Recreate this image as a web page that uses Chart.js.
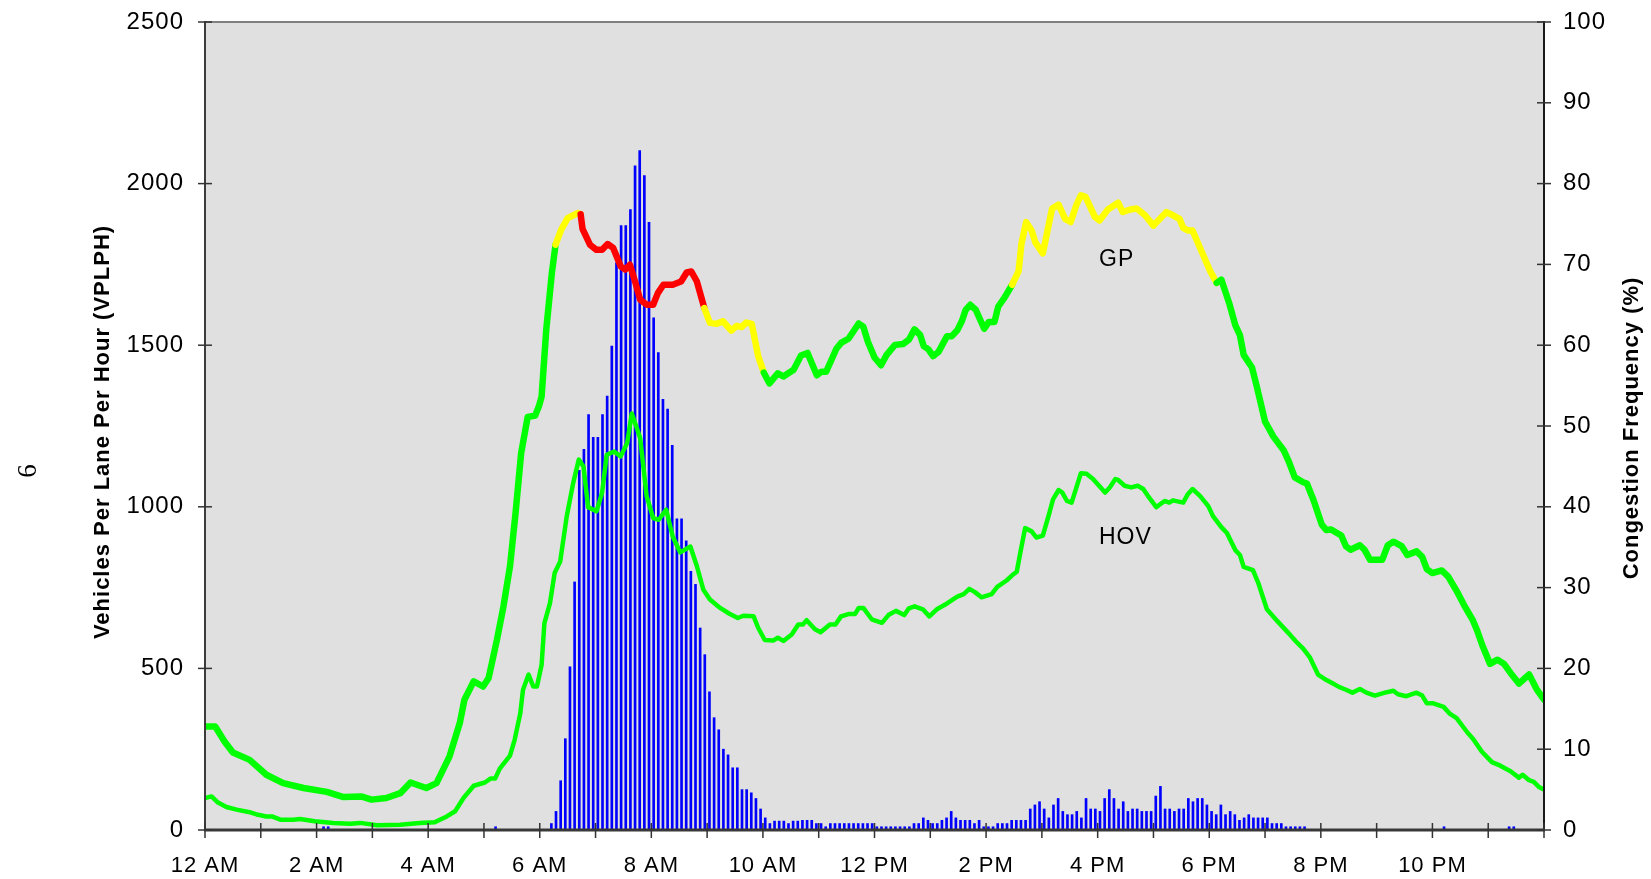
<!DOCTYPE html>
<html>
<head>
<meta charset="utf-8">
<title>Vehicles Per Lane Per Hour and Congestion Frequency</title>
<script src="https://cdn.jsdelivr.net/npm/chart.js@4.4.0/dist/chart.umd.min.js"></script>
<style>
  html, body { margin: 0; padding: 0; background: #ffffff; }
  #wrap { width: 1651px; height: 879px; position: relative; }
</style>
</head>
<body>
<div id="wrap"><canvas id="chart"></canvas></div>
<script>
// ---- Axis labels ----
const hourLabels = ['12 AM', '2 AM', '4 AM', '6 AM', '8 AM', '10 AM',
                    '12 PM', '2 PM', '4 PM', '6 PM', '8 PM', '10 PM'];
const leftTitle = 'Vehicles Per Lane Per Hour (VPLPH)';
const rightTitle = 'Congestion Frequency (%)';

// ---- General purpose lanes: flow (VPLPH) by time of day ----
const gpTimes = [
  '0:00','0:11','0:21','0:30','0:48','1:06','1:24','1:46','2:11','2:29',
  '2:48','2:59','3:15','3:30','3:41','3:58','4:09','4:23','4:34','4:39',
  '4:49','4:59','5:05','5:14','5:21','5:28','5:34','5:40','5:47','5:55',
  '5:59','6:02','6:07','6:13','6:17','6:23','6:30','6:41','6:44','6:46',
  '6:54','7:01','7:07','7:13','7:19','7:27','7:32','7:37','7:43','7:48',
  '7:55','8:02','8:07','8:13','8:23','8:32','8:38','8:43','8:49','8:57',
  '9:03','9:10','9:17','9:26','9:32','9:37','9:42','9:48','9:55','10:01',
  '10:07','10:16','10:22','10:33','10:41','10:48','10:58','11:03','11:08','11:19',
  '11:24','11:32','11:43','11:48','11:53','12:00','12:07','12:13','12:22','12:31',
  '12:37','12:43','12:49','12:53','12:58','13:03','13:09','13:18','13:23','13:29',
  '13:34','13:38','13:43','13:49','13:58','14:03','14:09','14:13','14:20','14:28',
  '14:35','14:38','14:43','14:49','14:53','15:01','15:11','15:18','15:25','15:31',
  '15:37','15:42','15:47','15:57','16:02','16:11','16:22','16:27','16:35','16:42',
  '16:51','17:00','17:14','17:21','17:28','17:32','17:37','17:42','17:53','18:01',
  '18:08','18:13','18:22','18:28','18:33','18:37','18:46','18:51','19:00','19:09',
  '19:20','19:25','19:32','19:41','19:45','19:52','20:01','20:06','20:11','20:22',
  '20:27','20:32','20:42','20:47','20:53','21:06','21:12','21:18','21:27','21:33',
  '21:43','21:49','21:54','22:00','22:10','22:17','22:26','22:34','22:43','22:48',
  '22:54','23:02','23:10','23:17','23:24','23:33','23:44','23:52','24:00'
];
const gpFlow = [
  320, 320, 274, 240, 217, 171, 145, 130, 118, 102,
  104,  94,  99, 114, 147, 130, 145, 228, 331, 403,
  460, 444, 470, 589, 692, 816, 981, 1166, 1278, 1282,
  1310, 1341, 1548, 1723, 1811, 1857, 1893, 1909, 1905, 1860,
  1811, 1795, 1795, 1813, 1801, 1744, 1734, 1749, 1692, 1641,
  1625, 1625, 1661, 1687, 1687, 1697, 1725, 1728, 1697, 1615,
  1569, 1566, 1574, 1545, 1560, 1556, 1570, 1566, 1465, 1415,
  1382, 1413, 1403, 1424, 1468, 1476, 1407, 1418, 1418, 1489,
  1507, 1520, 1567, 1557, 1510, 1462, 1438, 1470, 1501, 1504,
  1517, 1549, 1532, 1497, 1487, 1466, 1480, 1528, 1528, 1546,
  1575, 1609, 1625, 1609, 1551, 1572, 1572, 1619, 1648, 1687,
  1729, 1813, 1881, 1855, 1818, 1784, 1923, 1935, 1891, 1881,
  1933, 1964, 1959, 1897, 1886, 1920, 1941, 1912, 1920, 1923,
  1902, 1870, 1912, 1902, 1891, 1863, 1855, 1855, 1782, 1729,
  1693, 1703, 1625, 1562, 1531, 1470, 1431, 1374, 1264, 1217,
  1175, 1144, 1091, 1076, 1072, 1022, 945, 928, 930, 911,
  878, 867, 881, 867, 836, 836, 881, 892, 878, 851,
  862, 845, 807, 795, 803, 784, 740, 696, 652, 618,
  569, 514, 527, 514, 486, 453, 481, 436, 403
];
// Speed condition of the GP line, from each listed time onward
const gpCondition = [
  ['0:00', 'free'], ['6:17', 'slow'], ['6:44', 'stop'], ['8:57', 'slow'],
  ['10:01', 'free'], ['14:28', 'slow'], ['18:08', 'free']
];
const conditionColors = { free: '#00ff00', slow: '#ffff00', stop: '#ff0000' };

// ---- HOV lanes: flow (VPLPH) by time of day ----
const hovTimes = [
  '0:00','0:07','0:14','0:23','0:34','0:48','0:57','1:06','1:12','1:21',
  '1:35','1:42','1:58','2:18','2:36','2:47','3:05','3:30','3:51','4:07',
  '4:20','4:29','4:38','4:49','5:01','5:07','5:12','5:17','5:28','5:33',
  '5:39','5:42','5:48','5:53','5:57','6:02','6:05','6:11','6:16','6:22',
  '6:29','6:36','6:42','6:47','6:52','7:01','7:07','7:12','7:20','7:27',
  '7:34','7:39','7:48','7:55','8:02','8:08','8:16','8:23','8:31','8:42',
  '8:49','8:56','9:03','9:14','9:24','9:33','9:39','9:50','9:55','10:02',
  '10:11','10:16','10:22','10:31','10:38','10:43','10:47','10:56','11:02','11:12',
  '11:18','11:24','11:32','11:39','11:43','11:48','11:57','12:08','12:15','12:23',
  '12:32','12:37','12:43','12:52','12:59','13:07','13:18','13:29','13:36','13:42',
  '13:48','13:55','14:06','14:12','14:22','14:28','14:33','14:37','14:42','14:49',
  '14:54','15:01','15:07','15:12','15:18','15:22','15:27','15:32','15:42','15:48',
  '15:55','16:08','16:13','16:19','16:22','16:29','16:36','16:43','16:49','16:54',
  '17:03','17:12','17:17','17:21','17:32','17:37','17:42','17:50','17:59','18:04',
  '18:13','18:19','18:28','18:33','18:37','18:47','18:53','19:02','19:13','19:25',
  '19:33','19:41','19:48','19:57','20:06','20:13','20:20','20:27','20:34','20:42',
  '20:49','20:58','21:09','21:18','21:23','21:32','21:43','21:49','21:54','22:01',
  '22:12','22:19','22:26','22:37','22:44','22:53','23:04','23:13','23:24','23:33',
  '23:37','23:44','23:49','23:55','24:00'
];
const hovFlow = [
  99, 104, 85, 71, 63, 55, 47, 42, 42, 32,
  32, 34, 27, 22, 19, 22, 15, 16, 22, 24,
  42, 58, 99, 137, 147, 159, 159, 190, 230, 279,
  360, 434, 481, 444, 444, 511, 640, 702, 795, 831,
  970, 1074, 1146, 1125, 999, 986, 1043, 1161, 1171, 1156,
  1197, 1289, 1213, 1032, 965, 960, 991, 908, 859, 877,
  816, 743, 713, 687, 669, 656, 663, 661, 625, 588,
  586, 595, 585, 605, 636, 636, 649, 621, 612, 636,
  636, 661, 668, 668, 687, 687, 652, 641, 665, 678,
  665, 686, 692, 683, 661, 683, 701, 722, 730, 746,
  736, 720, 730, 752, 772, 788, 799, 861, 934, 924,
  905, 911, 970, 1023, 1052, 1044, 1018, 1013, 1104, 1102,
  1086, 1044, 1060, 1086, 1083, 1065, 1060, 1065, 1055, 1034,
  999, 1018, 1013, 1020, 1013, 1039, 1055, 1034, 1002, 971,
  937, 919, 866, 851, 814, 804, 762, 683, 647, 610,
  584, 561, 535, 481, 464, 453, 442, 434, 425, 436,
  425, 416, 425, 431, 420, 414, 425, 416, 392, 392,
  381, 359, 346, 304, 281, 243, 210, 199, 182, 162,
  171, 154, 149, 132, 125
];

// ---- Congestion frequency (%) for each 5-minute interval, one row per hour ----
const congestionByHour = [
  [0, 0, 0, 0, 0, 0, 0, 0, 0, 0, 0, 0],                                   // 12 AM
  [0, 0, 0, 0, 0, 0, 0, 0, 0, 0, 0, 0],                                   // 1 AM
  [0, 0.4, 0.4, 0, 0, 0, 0, 0, 0, 0, 0, 0],                               // 2 AM
  [0, 0, 0, 0, 0, 0, 0, 0, 0, 0, 0, 0],                                   // 3 AM
  [0, 0, 0, 0, 0, 0, 0, 0, 0, 0, 0, 0],                                   // 4 AM
  [0, 0, 0.4, 0, 0, 0, 0, 0, 0, 0, 0, 0],                                 // 5 AM
  [0, 0, 0.8, 2.3, 6.1, 11.3, 20.2, 30.7, 44.5, 47.1, 51.4, 48.6],        // 6 AM
  [48.6, 51.4, 53.7, 59.9, 70.2, 74.8, 74.8, 76.8, 82.2, 84.1, 81.0, 75.2], // 7 AM
  [63.4, 59.1, 53.3, 52.1, 47.6, 38.5, 38.5, 35.8, 32.0, 30.4, 25.0, 21.7], // 8 AM
  [17.1, 13.9, 12.4, 10.0, 9.3, 7.7, 7.7, 5.0, 5.0, 4.6, 3.9, 2.6],       // 9 AM
  [1.5, 0.8, 1.1, 1.1, 1.1, 0.8, 1.1, 1.1, 1.2, 1.2, 1.2, 0.8],           // 10 AM
  [0.8, 0.4, 0.8, 0.8, 0.8, 0.8, 0.8, 0.8, 0.8, 0.8, 0.8, 0.8],           // 11 AM
  [0.4, 0.4, 0.4, 0.4, 0.4, 0.4, 0.4, 0.4, 0.8, 0.8, 1.5, 1.2],           // 12 PM
  [0.8, 0.8, 1.2, 1.5, 2.3, 1.5, 1.2, 1.2, 1.2, 0.8, 1.2, 0.4],           // 1 PM
  [0.4, 0.4, 0.8, 0.8, 0.8, 1.2, 1.2, 1.2, 1.2, 2.6, 3.1, 3.5],           // 2 PM
  [2.6, 1.5, 3.1, 3.9, 2.3, 1.9, 1.9, 2.3, 1.5, 3.9, 2.6, 2.6],           // 3 PM
  [2.3, 3.9, 5.0, 3.9, 2.6, 3.5, 2.3, 2.6, 2.6, 2.3, 2.3, 2.3],           // 4 PM
  [4.2, 5.4, 2.6, 2.6, 2.3, 2.6, 2.6, 3.9, 3.5, 3.9, 3.9, 3.1],           // 5 PM
  [2.3, 1.9, 3.1, 1.9, 2.3, 1.9, 1.2, 1.5, 1.9, 1.5, 1.5, 1.5],           // 6 PM
  [1.5, 0.8, 0.8, 0.8, 0.4, 0.4, 0.4, 0.4, 0.4, 0, 0, 0],                 // 7 PM
  [0, 0, 0, 0, 0, 0, 0, 0, 0, 0, 0, 0],                                   // 8 PM
  [0, 0, 0, 0, 0, 0, 0, 0, 0, 0, 0, 0],                                   // 9 PM
  [0, 0, 0.4, 0, 0, 0, 0, 0, 0, 0, 0, 0],                                 // 10 PM
  [0, 0, 0, 0, 0.4, 0.4, 0, 0, 0, 0, 0, 0]                                // 11 PM
];

// ---- Helpers ----
const toMinutes = s => { const [h, m] = s.split(':').map(Number); return h * 60 + m; };
const FONT = "'Liberation Sans', Arial, Helvetica, sans-serif";

const gpPoints = gpTimes.map((t, i) => ({ x: toMinutes(t), y: gpFlow[i] }));
const hovPoints = hovTimes.map((t, i) => ({ x: toMinutes(t), y: hovFlow[i] }));
const conditionAt = minute => {
  let c = gpCondition[0][1];
  for (const [t, name] of gpCondition) if (toMinutes(t) <= minute) c = name;
  return c;
};
const gpColors = gpPoints.map(p => conditionColors[conditionAt(p.x)]);

// bars sit at the middle of their 5-minute interval
const congestionBars = [];
congestionByHour.forEach((row, h) => row.forEach((v, k) => {
  if (v > 0) congestionBars.push({ x: h * 60 + k * 5 + 2.5, y: v });
}));

// keep the plot box fixed: no extra room for half-labels at the ends of each axis
const fixSize = (w, h) => s => {
  if (w !== null) s.width = w;
  if (h !== null) s.height = h;
  s.paddingTop = 0; s.paddingBottom = 0; s.paddingLeft = 0; s.paddingRight = 0;
};

// ---- Frame, ticks and free text drawn around the plot ----
const framePlugin = {
  id: 'frame',
  beforeDraw(chart) {
    const { ctx, chartArea: a } = chart;
    ctx.save();
    ctx.fillStyle = '#ffffff';
    ctx.fillRect(0, 0, chart.width, chart.height);
    ctx.fillStyle = '#e0e0e0';
    ctx.fillRect(a.left, a.top, a.right - a.left, a.bottom - a.top);
    ctx.restore();
    ctx.letterSpacing = '1px';
  },
  afterDatasetsDraw(chart) {
    const { ctx, chartArea: a, scales } = chart;
    const line = (x1, y1, x2, y2, color, w) => {
      ctx.strokeStyle = color; ctx.lineWidth = w;
      ctx.beginPath(); ctx.moveTo(x1, y1); ctx.lineTo(x2, y2); ctx.stroke();
    };
    ctx.save();
    ctx.lineCap = 'butt';
    // plot frame
    line(a.left, a.top, a.right, a.top, '#808080', 2);
    line(a.left, a.top - 1, a.left, a.bottom + 1, '#3c3c3c', 2);
    line(a.right, a.top - 1, a.right, a.bottom + 1, '#1a1a1a', 2);
    line(a.left - 1, a.bottom, a.right + 1, a.bottom, '#383838', 3);
    // tick marks crossing the axes
    for (let v = 0; v <= 2500; v += 500) {
      const y = scales.y.getPixelForValue(v);
      line(a.left - 7, y, a.left + 7, y, '#333333', 1.5);
    }
    for (let v = 0; v <= 100; v += 10) {
      const y = scales.y2.getPixelForValue(v);
      line(a.right - 7, y, a.right + 7, y, '#333333', 1.5);
    }
    for (let m = 0; m <= 1440; m += 60) {
      const x = scales.x.getPixelForValue(m);
      line(x, a.bottom - 7, x, a.bottom + 8, '#333333', 1.5);
    }
    ctx.restore();
  },
  afterDraw(chart) {
    const { ctx } = chart;
    const rotatedText = (text, x, y, angle, font) => {
      ctx.save();
      ctx.translate(x, y);
      ctx.rotate(angle);
      ctx.font = font;
      ctx.fillStyle = '#000000';
      ctx.textAlign = 'center';
      ctx.textBaseline = 'middle';
      ctx.fillText(text, 0, 0);
      ctx.restore();
    };
    ctx.save();
    ctx.letterSpacing = '1px';
    rotatedText(leftTitle, 103, 432, -Math.PI / 2, 'bold 22px ' + FONT);
    rotatedText(rightTitle, 1632, 428, -Math.PI / 2, 'bold 22px ' + FONT);
    ctx.letterSpacing = '0px';
    rotatedText('6', 29, 471, -Math.PI / 2, "27px 'Liberation Serif', 'Times New Roman', serif");
    ctx.letterSpacing = '1px';
    ctx.font = '23px ' + FONT;
    ctx.fillStyle = '#000000';
    ctx.textAlign = 'left';
    ctx.textBaseline = 'middle';
    ctx.fillText('GP', 1099, 260);
    ctx.fillText('HOV', 1099, 538);
    ctx.restore();
  }
};

new Chart(document.getElementById('chart'), {
  data: {
    datasets: [
      {
        type: 'line',
        label: 'GP',
        data: gpPoints,
        yAxisID: 'y',
        borderColor: '#00ff00',
        borderWidth: 6.5,
        pointRadius: 0,
        tension: 0,
        borderJoinStyle: 'round',
        borderCapStyle: 'round',
        segment: { borderColor: c => gpColors[c.p0DataIndex] },
        order: 1
      },
      {
        type: 'line',
        label: 'HOV',
        data: hovPoints,
        yAxisID: 'y',
        borderColor: '#00ff00',
        borderWidth: 4.5,
        pointRadius: 0,
        tension: 0,
        borderJoinStyle: 'round',
        borderCapStyle: 'round',
        order: 2
      },
      {
        type: 'bar',
        label: 'Congestion Frequency',
        data: congestionBars,
        yAxisID: 'y2',
        backgroundColor: '#0000ff',
        borderWidth: 0,
        barThickness: 2,
        grouped: false,
        order: 3
      }
    ]
  },
  options: {
    responsive: true,
    maintainAspectRatio: false,
    animation: false,
    events: [],
    layout: { padding: { top: 22, left: 0, right: 0, bottom: 0 } },
    plugins: { legend: { display: false }, tooltip: { enabled: false } },
    scales: {
      x: {
        type: 'linear',
        position: 'bottom',
        offset: false,
        min: 0,
        max: 1440,
        afterFit: fixSize(null, 49),
        grid: { display: false, drawTicks: false, offset: false },
        border: { display: false },
        ticks: {
          stepSize: 120,
          autoSkip: false,
          maxRotation: 0,
          padding: 23,
          color: '#000000',
          font: { family: FONT, size: 22 },
          callback: v => hourLabels[v / 120] ?? ''
        }
      },
      y: {
        type: 'linear',
        position: 'left',
        min: 0,
        max: 2500,
        afterFit: fixSize(205, null),
        grid: { display: false, drawTicks: false },
        border: { display: false },
        ticks: {
          stepSize: 500, padding: 21, color: '#000000',
          font: { family: FONT, size: 24 },
          callback: v => String(v)
        }
      },
      y2: {
        type: 'linear',
        position: 'right',
        min: 0,
        max: 100,
        afterFit: fixSize(107, null),
        grid: { display: false, drawTicks: false },
        border: { display: false },
        ticks: {
          stepSize: 10, padding: 19, color: '#000000',
          font: { family: FONT, size: 24 },
          callback: v => String(v)
        }
      }
    }
  },
  plugins: [framePlugin]
});
</script>
</body>
</html>
